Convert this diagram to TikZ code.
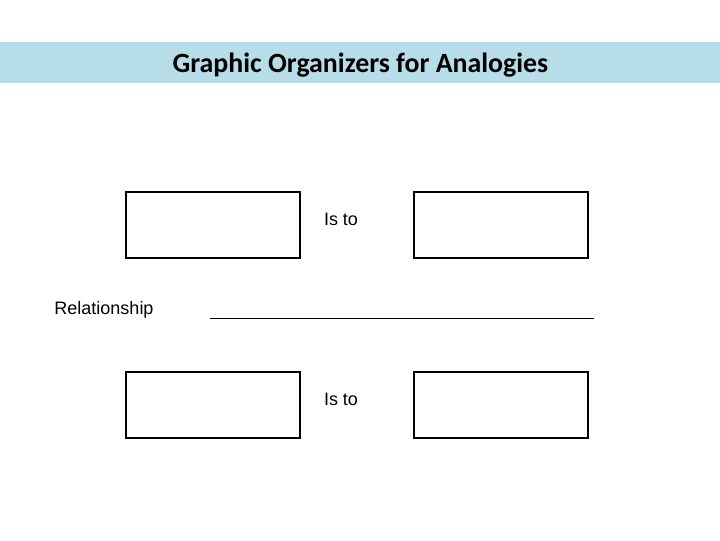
\documentclass[tikz,border=0pt]{standalone}
\usepackage{fontspec}
\setmainfont{Liberation Sans}
\newfontfamily\titlefont{Carlito}
\usetikzlibrary{positioning}
\definecolor{bandblue}{HTML}{B7DDE8}

\begin{document}
\begin{tikzpicture}[
    x=0.025cm, y=-0.025cm,
    term/.style={draw, line width=0.8pt, minimum width=4.35cm, minimum height=1.65cm, inner sep=0},
    label/.style={inner sep=0, anchor=base, font=\fontsize{12.8}{15}\selectfont},
    heading/.style={inner sep=0, anchor=base, font=\titlefont\bfseries\fontsize{19.8}{23}\selectfont}
  ]
  \useasboundingbox (0,0) rectangle (720,540);
  \fill[bandblue] (0,42) rectangle (720,82.5);
  \node[heading] (title) at (360.5,72) {Graphic Organizers for Analogies};

  \node[term] (termA) at (213,225) {};
  \node[term] (termB) at (501,225) {};
  \node[label] (isA) at (341,225) {Is to};

  \node[label] (rel) at (104,314.5) {Relationship};
  \coordinate (blankL) at (210,318.3);
  \coordinate (blankR) at (594,318.3);
  \draw[line width=0.8pt] (blankL) -- (blankR);

  \node[term] (termC) at (213,405) {};
  \node[term] (termD) at (501,405) {};
  \node[label] (isB) at (341,405) {Is to};
\end{tikzpicture}
\end{document}
